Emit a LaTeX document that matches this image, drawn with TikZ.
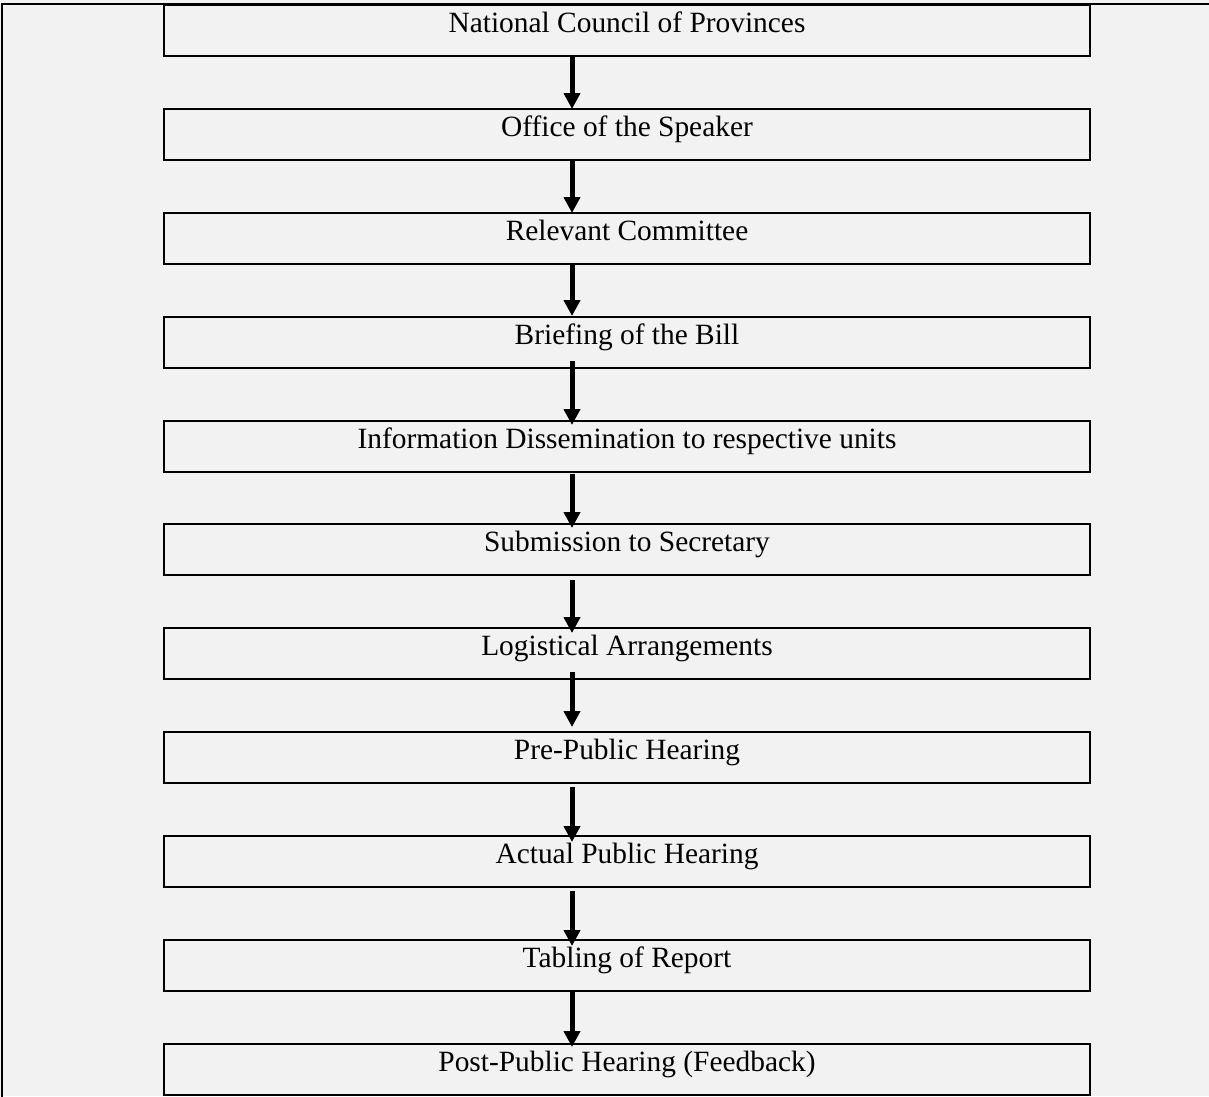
\documentclass[tikz,border=0pt]{standalone}
\usepackage{fontspec}
\setmainfont{Liberation Serif}
\usetikzlibrary{arrows.meta,calc}
\definecolor{bg}{HTML}{F2F2F2}
\newcommand{\conn}[4]{\draw[flow] ($(#1.south -| ax)+(0,#2)$) -- ($(#3.north -| ax)+(0,#4)$);}
\begin{document}
\begin{tikzpicture}[x=1pt,y=-1pt,
  stage/.style={draw, line width=2pt, fill=bg, minimum width=926pt, inner xsep=0pt, inner ysep=0pt,
    text height=27pt, text depth=24pt, font=\fontsize{29.4}{35}\selectfont, outer sep=0pt},
  flow/.style={line width=5pt, -{Triangle[length=16pt,width=16pt]}},
  frame/.style={line width=2pt}]
\useasboundingbox (0,0) rectangle (1209,1096);
\fill[bg] (0,0) rectangle (1209,1096);
\draw[frame] (2,1097) -- (2,4.3) -- (1210,4.3);
\coordinate (ax) at (572,0);
\node[stage] (b1) at (627,30.5) {National Council of Provinces};
\node[stage] (b2) at (627,134.5) {Office of the Speaker};
\node[stage] (b3) at (627,238.5) {Relevant Committee};
\node[stage] (b4) at (627,342.5) {Briefing of the Bill};
\node[stage] (b5) at (627,446.5) {Information Dissemination to respective units};
\node[stage] (b6) at (627,549.5) {Submission to Secretary};
\node[stage] (b7) at (627,653.5) {Logistical Arrangements};
\node[stage] (b8) at (627,757.5) {Pre-Public Hearing};
\node[stage] (b9) at (627,861.5) {Actual Public Hearing};
\node[stage] (b10) at (627,965.5) {Tabling of Report};
\node[stage] (b11) at (627,1069.5) {Post-Public Hearing (Feedback)};
\conn{b1}{0}{b2}{0}
\conn{b2}{-1}{b3}{0}
\conn{b3}{-1}{b4}{-1}
\conn{b4}{-7}{b5}{4}
\conn{b5}{2}{b6}{4}
\conn{b6}{5}{b7}{5}
\conn{b7}{-7}{b8}{-5}
\conn{b8}{4}{b9}{6}
\conn{b9}{4}{b10}{6}
\conn{b10}{1}{b11}{3}
\end{tikzpicture}
\end{document}
